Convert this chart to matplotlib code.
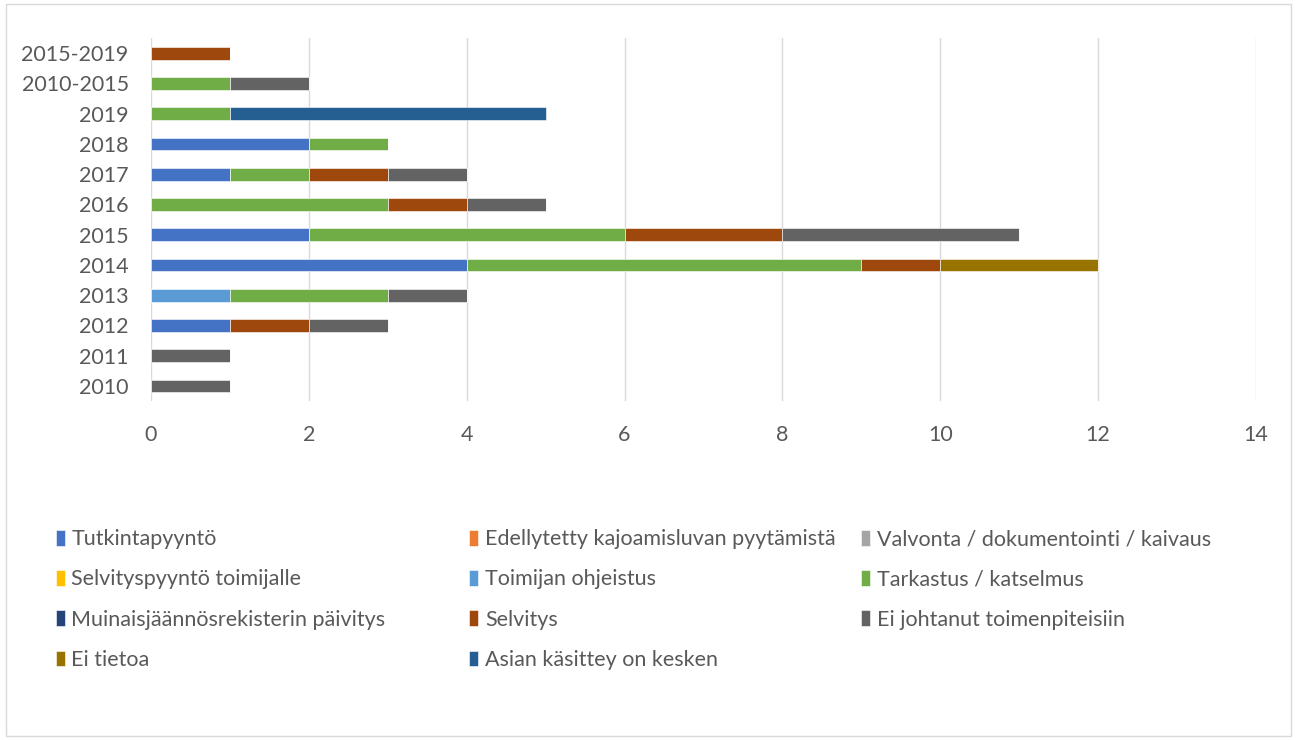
import numpy as np
import matplotlib.pyplot as plt
from matplotlib.patches import Rectangle

plt.rcParams['font.family'] = ['Lato', 'DejaVu Sans']

categories = ['2010', '2011', '2012', '2013', '2014', '2015', '2016', '2017',
              '2018', '2019', '2010-2015', '2015-2019']

series_names = ['Tutkintapyyntö', 'Edellytetty kajoamisluvan pyytämistä',
                'Valvonta / dokumentointi / kaivaus', 'Selvityspyyntö toimijalle',
                'Toimijan ohjeistus', 'Tarkastus / katselmus',
                'Muinaisjäännösrekisterin päivitys', 'Selvitys',
                'Ei johtanut toimenpiteisiin', 'Ei tietoa', 'Asian käsittey on kesken']

tutkintapyynto = [0, 0, 1, 0, 4, 2, 0, 1, 2, 0, 0, 0]
edellytetty = [0] * 12
valvonta = [0] * 12
selvityspyynto = [0] * 12
ohjeistus = [0, 0, 0, 1, 0, 0, 0, 0, 0, 0, 0, 0]
tarkastus = [0, 0, 0, 2, 5, 4, 3, 1, 1, 1, 1, 0]
muinais = [0] * 12
selvitys = [0, 0, 1, 0, 1, 2, 1, 1, 0, 0, 0, 1]
ei_johtanut = [1, 1, 1, 1, 0, 3, 1, 1, 0, 0, 1, 0]
ei_tietoa = [0, 0, 0, 0, 2, 0, 0, 0, 0, 0, 0, 0]
kesken = [0, 0, 0, 0, 0, 0, 0, 0, 0, 4, 0, 0]

values = [tutkintapyynto, edellytetty, valvonta, selvityspyynto, ohjeistus, tarkastus,
          muinais, selvitys, ei_johtanut, ei_tietoa, kesken]
colors = ['#4472C4', '#ED7D31', '#A5A5A5', '#FFC000', '#5B9BD5', '#70AD47',
          '#264478', '#9E480E', '#636363', '#997300', '#255E91']

fig = plt.figure(figsize=(12.97, 7.40), dpi=100)
fig.patches.append(Rectangle((0.005, 0.005), 0.99, 0.99, transform=fig.transFigure,
                             fill=False, edgecolor='#D9D9D9', linewidth=1))
ax = fig.add_axes([0.1164, 0.458, 0.8520, 0.4906])

y = np.arange(len(categories))
left = np.zeros(len(categories))
handles = []
for name, vals, c in zip(series_names, values, colors):
    vals = np.array(vals, dtype=float)
    b = ax.barh(y, vals, left=left, height=0.42, color=c, edgecolor='white',
                linewidth=0.4, label=name)
    handles.append(b)
    left += vals

ax.set_xlim(0, 14)
ax.set_ylim(-0.5, len(categories) - 0.5)
ax.set_xticks(range(0, 15, 2))
ax.set_yticks(y)
ax.set_yticklabels(categories)
ax.tick_params(length=0, labelsize=15.5, labelcolor='#595959')
ax.tick_params(axis='x', pad=17)
ax.tick_params(axis='y', pad=16)
ax.grid(axis='x', color='#D9D9D9', linewidth=1)
ax.set_axisbelow(True)
for s in ax.spines.values():
    s.set_visible(False)

# Excel-style legend: three equal-width columns, filled row by row
col_x = [0.028, 0.347, 0.649]
for col in range(3):
    idx = list(range(col, len(series_names), 3))
    leg = fig.legend([handles[i] for i in idx], [series_names[i] for i in idx],
                     loc='upper left', bbox_to_anchor=(col_x[col], 0.311),
                     frameon=False, fontsize=15.5, labelcolor='#595959',
                     handlelength=0.42, handleheight=0.75, handletextpad=0.3,
                     labelspacing=0.94)

fig.savefig('out.png', dpi=100)
